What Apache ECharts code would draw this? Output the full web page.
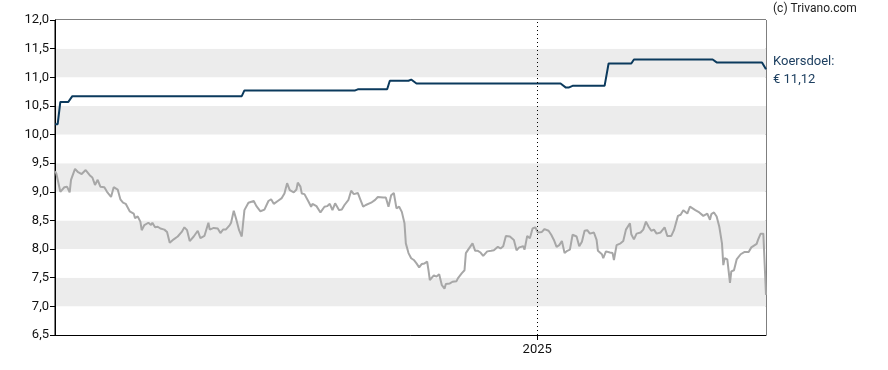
<!DOCTYPE html>
<html>
<head>
<meta charset="utf-8">
<script src="https://cdn.jsdelivr.net/npm/echarts@6/dist/echarts.min.js"></script>
<style>html,body{margin:0;padding:0;background:#fff}#c{width:888px;height:370px}</style>
</head>
<body>
<div id="c"></div>
<script>
// start of the chart (day 0) and length in days
var startDate = new Date(2024, 0, 5, 12);
var spanDays = 533;
var yearMark = new Date(2025, 0, 1);

// share price: day offsets from start, values in euro
var priceDays = [0,1,4,7,9,11,12,15,17,20,23,26,28,30,32,34,37,39,42,44,47,49,51,53,56,59,60,62,64,65,67,70,72,73,75,77,79,82,84,86,89,92,95,97,99,101,104,107,109,112,115,116,119,122,124,126,128,131,132,134,136,138,140,142,145,149,151,154,157,160,162,164,167,170,172,174,176,179,181,182,184,185,187,190,192,193,196,197,199,202,204,206,208,210,211,213,215,217,220,222,224,227,229,231,233,237,240,242,246,248,250,252,254,256,258,260,262,263,265,267,269,271,273,275,277,279,280,281,284,286,288,290,292,293,296,298,301,302,305,307,308,310,313,315,317,319,321,324,327,329,332,334,336,338,341,344,346,348,351,352,354,356,358,360,362,365,367,370,372,374,376,378,380,382,384,386,388,391,393,395,397,399,401,404,406,407,410,411,413,416,418,419,421,424,426,428,431,432,434,436,439,441,443,445,447,449,451,454,457,459,462,464,467,469,471,472,474,476,477,480,483,486,489,491,492,494,496,498,500,501,502,504,506,507,509,511,514,517,520,522,526,527,529,531,533];
var priceVals = [9.36,9.32,9.00,9.08,9.09,8.99,9.21,9.40,9.35,9.31,9.38,9.29,9.25,9.12,9.21,9.09,9.08,9.00,8.91,9.08,9.04,8.87,8.81,8.79,8.66,8.62,8.54,8.57,8.48,8.33,8.42,8.46,8.42,8.46,8.38,8.39,8.36,8.34,8.30,8.11,8.17,8.22,8.30,8.38,8.33,8.14,8.22,8.32,8.19,8.23,8.46,8.34,8.37,8.36,8.28,8.34,8.34,8.42,8.46,8.67,8.51,8.33,8.22,8.68,8.81,8.84,8.75,8.66,8.69,8.84,8.87,8.79,8.84,8.89,8.97,9.15,9.03,8.99,9.04,9.16,9.09,8.97,8.96,8.83,8.74,8.79,8.75,8.77,8.64,8.74,8.75,8.79,8.68,8.80,8.80,8.68,8.69,8.77,8.86,9.02,8.96,8.98,8.86,8.74,8.77,8.81,8.86,8.91,8.90,8.90,8.74,8.94,8.98,8.71,8.74,8.65,8.45,8.10,7.93,7.84,7.81,7.75,7.68,7.74,7.75,7.78,7.63,7.46,7.54,7.52,7.56,7.37,7.31,7.39,7.40,7.43,7.44,7.49,7.58,7.63,7.93,8.00,8.10,7.97,7.97,7.94,7.88,7.96,7.97,7.98,8.04,8.01,8.05,8.23,8.22,8.16,7.98,8.03,8.05,7.99,8.23,8.19,8.36,8.38,8.29,8.30,8.35,8.32,8.25,8.16,8.04,8.07,8.14,7.93,7.97,7.99,8.25,8.22,8.05,8.13,8.32,8.33,8.27,8.29,8.16,7.97,7.91,7.84,7.96,7.94,7.93,7.81,8.07,8.10,8.14,8.34,8.45,8.26,8.17,8.27,8.29,8.34,8.48,8.39,8.32,8.34,8.27,8.29,8.38,8.23,8.23,8.33,8.58,8.60,8.68,8.71,8.62,8.74,8.75,8.68,8.64,8.58,8.62,8.51,8.61,8.64,8.57,8.39,8.10,7.72,7.84,7.82,7.41,7.61,7.63,7.82,7.91,7.95,7.95,8.03,8.09,8.16,8.27,8.27,7.20];

// price target (koersdoel): day offsets and values
var targetDays = [0,2,4,10,13,140,142,225,227,249,251,265,267,268,271,379,383,385,388,412,415,432,434,493,496,530,533];
var targetVals = [10.18,10.18,10.57,10.57,10.67,10.67,10.77,10.77,10.79,10.79,10.94,10.94,10.96,10.95,10.89,10.89,10.82,10.82,10.85,10.85,11.24,11.24,11.31,11.31,11.26,11.26,11.14];

var yMin = 6.5, yMax = 12.0, yStep = 0.5;
var copyright = '(c) Trivano.com';
var targetTitle = 'Koersdoel:';
var targetLabel = '€ 11,12';

function dayToTime(d) { return startDate.getTime() + d * 86400000; }
function pairs(days, vals) { return days.map(function (d, i) { return [dayToTime(d), vals[i]]; }); }

var chart = echarts.init(document.getElementById('c'), null, { renderer: 'canvas' });
var yearMs = 365.25 * 86400000;
chart.setOption({
  animation: false,
  backgroundColor: '#fff',
  textStyle: { fontFamily: 'Roboto' },
  grid: { left: 55, right: 122, top: 20, bottom: 35, show: true, borderColor: '#000', borderWidth: 1, backgroundColor: 'transparent' },
  xAxis: {
    type: 'time',
    min: dayToTime(0),
    max: dayToTime(spanDays),
    minInterval: yearMs,
    maxInterval: yearMs,
    axisLine: { show: true, lineStyle: { color: '#000', width: 1 } },
    axisTick: { show: true, length: 5, lineStyle: { color: '#000' } },
    axisLabel: {
      color: '#111', fontSize: 13, fontFamily: 'Roboto', margin: 8,
      showMinLabel: false, showMaxLabel: false,
      formatter: function (v) { var d = new Date(v); return (d.getMonth() === 0 && d.getDate() === 1) ? String(d.getFullYear()) : ''; }
    },
    splitLine: { show: false }
  },
  yAxis: {
    type: 'value',
    min: yMin, max: yMax, interval: yStep,
    axisLine: { show: true, lineStyle: { color: '#000', width: 1 } },
    axisTick: { show: true, length: 5, lineStyle: { color: '#000' } },
    axisLabel: { color: '#111', fontSize: 13, fontFamily: 'Roboto', margin: 6, formatter: function (v) { return v.toFixed(1).replace('.', ','); } },
    splitLine: { show: false },
    splitArea: { show: true, areaStyle: { color: ['#ffffff', '#ececec'] } }
  },
  series: [
    {
      type: 'line', name: 'Koers', data: pairs(priceDays, priceVals),
      showSymbol: false, symbol: 'none',
      lineStyle: { color: '#a7a7a7', width: 2 },
      z: 2,
      markLine: {
        silent: true, symbol: 'none', label: { show: false },
        lineStyle: { color: '#000', type: [1, 3], width: 1 },
        data: [{ xAxis: yearMark.getTime() }]
      }
    },
    {
      type: 'line', name: 'Koersdoel', data: pairs(targetDays, targetVals),
      showSymbol: false, symbol: 'none',
      lineStyle: { color: '#0b3a5d', width: 2 },
      z: 3
    }
  ],
  graphic: [
    { type: 'text', left: 773, top: 3, style: { text: copyright, fill: '#222', fontSize: 12, fontFamily: 'Roboto' } },
    { type: 'text', left: 773, top: 55, style: { text: targetTitle, fill: '#1d3f60', fontSize: 13, fontFamily: 'Roboto' } },
    { type: 'text', left: 773, top: 73, style: { text: targetLabel, fill: '#1d3f60', fontSize: 13, fontFamily: 'Roboto' } }
  ]
});
</script>
</body>
</html>
